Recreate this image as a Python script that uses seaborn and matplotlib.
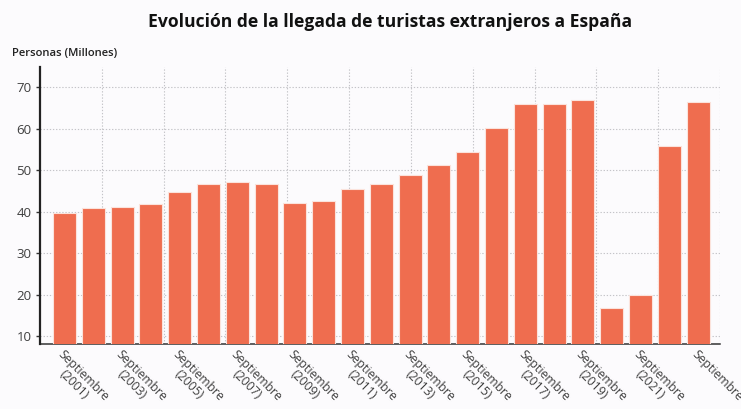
import numpy as np
import pandas as pd
import matplotlib
matplotlib.use("Agg")
import matplotlib.pyplot as plt
import seaborn as sns

# Tourist arrivals to Spain (millions of people), September of each year
years = ["2001", "2002", "2003", "2004", "2005", "2006", "2007", "2008",
         "2009", "2010", "2011", "2012", "2013", "2014", "2015", "2016",
         "2017", "2018", "2019", "2020", "2021", "2022", "2023"]
tourists = [39.7, 40.8, 41.2, 41.9, 44.8, 46.6, 47.1, 46.8,
            42.2, 42.5, 45.4, 46.8, 48.8, 51.3, 54.5, 60.1,
            66.1, 66.1, 66.9, 16.8, 19.8, 55.9, 66.5]
tick_labels = ["Septiembre\n(2001)", "Septiembre\n(2003)", "Septiembre\n(2005)",
               "Septiembre\n(2007)", "Septiembre\n(2009)", "Septiembre\n(2011)",
               "Septiembre\n(2013)", "Septiembre\n(2015)", "Septiembre\n(2017)",
               "Septiembre\n(2019)", "Septiembre\n(2021)", "Septiembre"]
y_ticks = [10, 20, 30, 40, 50, 60, 70]

title = "Evolución de la llegada de turistas extranjeros a España"
y_title = "Personas (Millones)"

df = pd.DataFrame({"year": years, "tourists": tourists})

sns.set_theme(style="white")
plt.rcParams["font.family"] = ["Open Sans", "DejaVu Sans"]

bg = "#fcfbfd"
bar_color = "#ef6d4f"
text_color = "#3f3f3f"

fig = plt.figure(figsize=(7.41, 4.09), dpi=100, facecolor=bg)
ax = fig.add_axes([0.054, 0.159, 0.9177, 0.677])
ax.set_facecolor(bg)

sns.barplot(data=df, x="year", y="tourists", color=bar_color, width=0.8,
            saturation=1, edgecolor="#fbe3dc", linewidth=0.8, ax=ax, zorder=3)

ax.set_ylim(8.1, 74.9)
ax.set_xlim(-0.85, 22.76)
ax.set_yticks(y_ticks)
ax.set_yticklabels([str(v) for v in y_ticks], color=text_color, fontsize=9.5)
ax.set_xticks(np.arange(0, len(years), 2))
ax.set_xticklabels(tick_labels, rotation=-45, ha="left", va="top",
                   rotation_mode="anchor", multialignment="center",
                   color=text_color, fontsize=8.8, linespacing=1.0)
ax.set_xlabel("")
ax.set_ylabel("")

# vertical guide lines split the plotting area into equal parts
x0, x1 = ax.get_xlim()
ax.set_xticks(np.linspace(x0, x1, 12)[1:], minor=True)
ax.grid(True, which="minor", axis="x", color="#c4c4c8", linestyle=(0, (1.2, 1.6)), linewidth=0.8, zorder=0)
ax.grid(True, which="major", axis="y", color="#c4c4c8", linestyle=(0, (1.2, 1.6)), linewidth=0.8, zorder=0)
ax.grid(False, which="major", axis="x")

ax.tick_params(axis="y", which="major", left=True, length=3, width=1, color="#333333", pad=3)
ax.tick_params(axis="x", which="major", bottom=False, length=0, pad=2.5)
ax.tick_params(axis="x", which="minor", bottom=False, length=0)

for side in ["top", "right"]:
    ax.spines[side].set_visible(False)
ax.spines["left"].set_color("#222222")
ax.spines["left"].set_linewidth(1.6)
ax.spines["bottom"].set_color("#333333")
ax.spines["bottom"].set_linewidth(1.1)
ax.spines["bottom"].set_zorder(1)

fig.text(0.527, 0.947, title, ha="center", va="center", fontsize=12.6,
         fontweight="bold", color="#111111")
fig.text(0.016, 0.870, y_title, ha="left", va="center", fontsize=8.1,
         fontweight="semibold", color="#222222")

fig.savefig("out.png", dpi=100, facecolor=bg)
